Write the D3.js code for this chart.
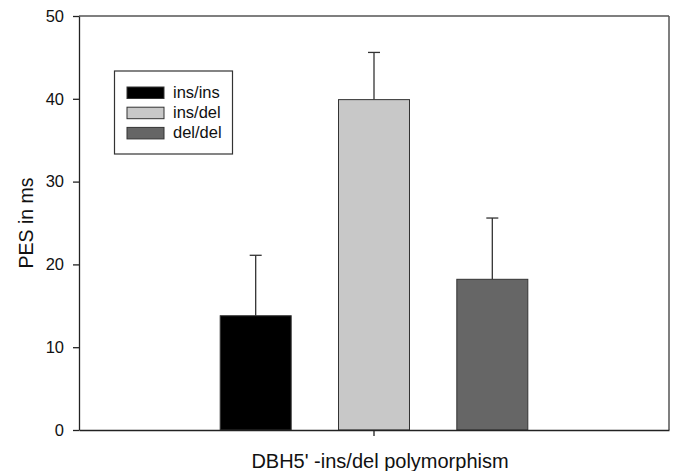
<!DOCTYPE html>
<html><head><meta charset="utf-8">
<script src="https://cdn.jsdelivr.net/npm/d3@7"></script>
<style>body{margin:0;background:#fff}svg{display:block;font-family:"Liberation Sans",Arial,sans-serif}</style>
</head><body>
<svg id="c" width="676" height="471"></svg>
<script>
const category = ["DBH5' -ins/del polymorphism"];
const series = ["ins/ins", "ins/del", "del/del"];
const means = [13.8, 39.9, 18.2];
const errors = [7.3, 5.7, 7.4];
const yTicks = [0, 10, 20, 30, 40, 50];
const colors = ["#000000", "#c8c8c8", "#666666"];

const svg = d3.select("#c");
const L = 79, R = 669, T = 16, B = 430;

const y = d3.scaleLinear().domain([0, 50]).range([B, T]);
const x0 = d3.scaleBand().domain(category).range([L, R]).paddingInner(0).paddingOuter(0.459);
const x1 = d3.scaleBand().domain(series).range([0, x0.bandwidth()]).paddingInner(0.4).paddingOuter(0);

// frame top/right
svg.append("line").attr("x1", L).attr("x2", R).attr("y1", T).attr("y2", T).attr("stroke", "#555").attr("stroke-width", 1.5);
svg.append("line").attr("x1", R).attr("x2", R).attr("y1", T).attr("y2", B).attr("stroke", "#555").attr("stroke-width", 1.5);

const g = svg.append("g").attr("transform", `translate(${x0(category[0])},0)`);
const data = series.map((s, i) => ({s, m: means[i], e: errors[i], c: colors[i]}));

// error bars
g.selectAll(".eb").data(data).join("line")
  .attr("x1", d => x1(d.s) + x1.bandwidth() / 2).attr("x2", d => x1(d.s) + x1.bandwidth() / 2)
  .attr("y1", d => y(d.m)).attr("y2", d => y(d.m + d.e))
  .attr("stroke", "#333").attr("stroke-width", 1.3);
g.selectAll(".cap").data(data).join("line")
  .attr("x1", d => x1(d.s) + x1.bandwidth() / 2 - 6).attr("x2", d => x1(d.s) + x1.bandwidth() / 2 + 6)
  .attr("y1", d => y(d.m + d.e)).attr("y2", d => y(d.m + d.e))
  .attr("stroke", "#333").attr("stroke-width", 1.3);

g.selectAll("rect").data(data).join("rect")
  .attr("x", d => x1(d.s)).attr("width", x1.bandwidth())
  .attr("y", d => y(d.m)).attr("height", d => y(0) - y(d.m))
  .attr("fill", d => d.c).attr("stroke", "#333").attr("stroke-width", 1);

// axes
const ya = svg.append("g").attr("transform", `translate(${L},0)`)
  .call(d3.axisLeft(y).tickValues(yTicks).tickSize(6).tickPadding(9).tickSizeOuter(0));
const xa = svg.append("g").attr("transform", `translate(0,${B})`)
  .call(d3.axisBottom(x0).tickSize(6).tickSizeOuter(0).tickFormat(""));
[ya, xa].forEach(a => {
  a.select(".domain").attr("stroke", "#222").attr("stroke-width", 1.3);
  a.selectAll(".tick line").attr("stroke", "#222").attr("stroke-width", 1.3);
});
ya.selectAll(".tick text").attr("font-size", 16.5).attr("fill", "#111").attr("font-family", "Liberation Sans, Arial, sans-serif");

// axis titles
svg.append("text").attr("transform", `translate(33,${(T + B) / 2}) rotate(-90)`)
  .attr("text-anchor", "middle").attr("font-size", 19.5).attr("fill", "#111").text("PES in ms");
svg.append("text").attr("x", x0(category[0]) + x0.bandwidth() / 2 + 6).attr("y", 468)
  .attr("text-anchor", "middle").attr("font-size", 20).attr("fill", "#111").text(category[0]);

// legend
const lg = svg.append("g");
lg.append("rect").attr("x", 114.5).attr("y", 71).attr("width", 118).attr("height", 83)
  .attr("fill", "#fff").attr("stroke", "#333").attr("stroke-width", 1.2);
data.forEach((d, i) => {
  const yy = 87 + i * 20.2;
  lg.append("rect").attr("x", 127).attr("y", yy).attr("width", 37).attr("height", 11.5)
    .attr("fill", d.c).attr("stroke", "#333").attr("stroke-width", 1);
  lg.append("text").attr("x", 173).attr("y", yy + 11).attr("font-size", 16.5).attr("fill", "#111").text(d.s);
});
</script>
</body></html>
